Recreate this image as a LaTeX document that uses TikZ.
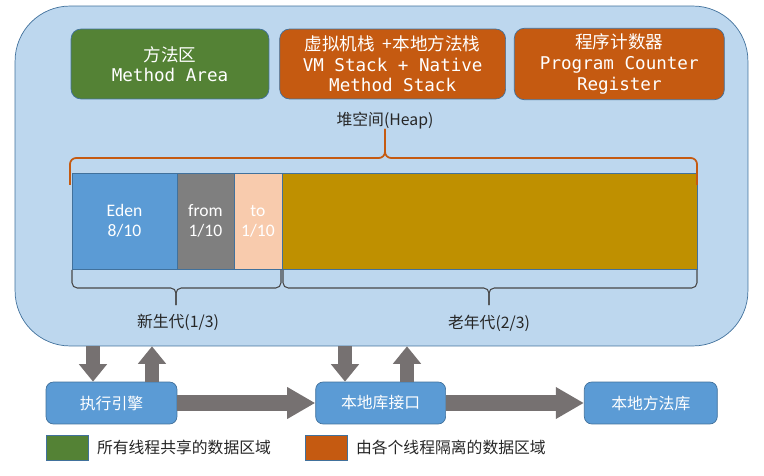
\documentclass[tikz,border=0pt]{standalone}
\usepackage{fontspec}
\setmainfont{Carlito}
\newfontfamily\cjkfont{Noto Sans CJK SC}
\newfontfamily\codefont{DejaVu Sans Mono}
\usetikzlibrary{arrows.meta,positioning}
\definecolor{Sky}{HTML}{BDD7EE}
\definecolor{Edge}{HTML}{41719C}
\definecolor{Leaf}{HTML}{548235}
\definecolor{Rust}{HTML}{C55A11}
\definecolor{Eden}{HTML}{5B9BD5}
\definecolor{Ash}{HTML}{7F7F7F}
\definecolor{Peach}{HTML}{F8CBAD}
\definecolor{Gold}{HTML}{BF9000}
\definecolor{Pipe}{HTML}{767171}
\definecolor{Ink}{HTML}{262626}
% #1 style, #2 left x, #3 right x, #4 tip x, #5 base y, #6 bar y, #7 tip y
\newcommand{\curlybrace}[7]{%
  \draw[#1] (#2,#5) -- (#2,#6) -- (#4,#6) -- (#4,#7);
  \draw[#1] (#3,#5) -- (#3,#6) -- (#4,#6) -- (#4,#7);}

\begin{document}
\begin{tikzpicture}[x=0.02cm,y=-0.02cm,
  every node/.style={font=\fontsize{9}{11}\selectfont\cjkfont,text=Ink},
  area/.style={rounded corners=2mm,draw=Edge,text=white,minimum height=1.4cm,align=center,font=\fontsize{10}{11.7}\selectfont},
  seg/.style={draw=Edge,minimum height=1.92cm,inner sep=0,outer sep=0,text=white,align=center,font=\fontsize{10}{11.4}\selectfont\rmfamily},
  box/.style={rounded corners=1.5mm,draw=Edge,fill=Eden,text=white,minimum height=0.84cm},
  key/.style={draw=Edge,minimum width=0.84cm,minimum height=0.5cm,inner sep=0},
  fat/.style={-{Triangle[length=16pt,width=17pt]},line width=9pt,draw=Pipe},
  thin/.style={-{Triangle[length=10pt,width=15.5pt]},line width=7.5pt,draw=Pipe},
  heapbrace/.style={Rust,line width=1pt,rounded corners=3.5pt},
  genbrace/.style={Ink!85,line width=0.6pt,rounded corners=3pt}
]
\useasboundingbox (0,0) rectangle (764,476);

% runtime data area
\node[draw=Edge,fill=Sky,rounded corners=1.1cm,minimum width=14.66cm,minimum height=6.8cm] (jvm) at (381.5,176) {};

\node[area,fill=Leaf,minimum width=3.96cm] (method) at (170,64) {{\cjkfont 方法区}\\{\codefont Method Area}};
\node[area,fill=Rust,minimum width=4.52cm,right=0.2cm of method] (stack) {{\cjkfont 虚拟机栈\ \ +本地方法栈}\\{\codefont VM Stack + Native}\\{\codefont Method Stack}};
\node[area,fill=Rust,minimum width=4.2cm,right=0.16cm of stack] (pc) {{\cjkfont 程序计数器}\\{\codefont Program Counter}\\{\codefont Register}};

% heap
\node (heaplabel) at (385,121) {堆空间(Heap)};
\node[seg,fill=Eden,minimum width=2.1cm,anchor=north west] (eden) at (72,173) {Eden\\8/10};
\node[seg,fill=Ash,minimum width=1.14cm,right=0pt of eden] (from) {from\\1/10};
\node[seg,fill=Peach,minimum width=0.96cm,right=0pt of from] (to) {to\\1/10};
\node[seg,fill=Gold,minimum width=8.3cm,right=0pt of to] (old) {};

\curlybrace{heapbrace}{70}{697}{385}{185}{158}{129}
\curlybrace{genbrace}{72}{281}{176}{270}{288}{305}
\curlybrace{genbrace}{283}{697}{489}{270}{288}{305}

\node (young) at (178,322) {新生代(1/3)};
\node (tenured) at (489,323) {老年代(2/3)};

% execution side
\node[box,minimum width=2.62cm] (engine) at (111.5,403) {执行引擎};
\node[box,minimum width=2.6cm,right=2.76cm of engine] (nativeif) {本地库接口};
\node[box,minimum width=2.66cm,right=2.76cm of nativeif] (nativelib) {本地方法库};

\draw[fat] (engine) -- (nativeif);
\draw[fat] (nativeif) -- (nativelib);
\draw[thin] (93,0 |- jvm.south) -- (93,0 |- engine.north);
\draw[thin] (152,0 |- engine.north) -- (152,0 |- jvm.south);
\draw[thin] (345,0 |- jvm.south) -- (345,0 |- nativeif.north);
\draw[thin] (407,0 |- nativeif.north) -- (407,0 |- jvm.south);

% legend
\node[key,fill=Leaf] (sharedkey) at (67,447.5) {};
\node[right=0.5mm of sharedkey] (shared) {所有线程共享的数据区域};
\node[key,fill=Rust] (privatekey) at (326,447.5) {};
\node[right=0.5mm of privatekey] (private) {由各个线程隔离的数据区域};
\end{tikzpicture}
\end{document}
